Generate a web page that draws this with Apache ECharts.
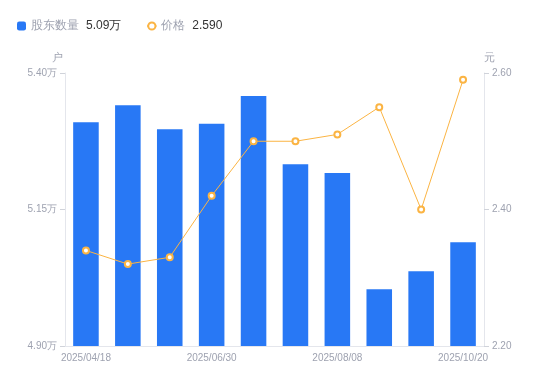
<!DOCTYPE html>
<html>
<head>
<meta charset="utf-8">
<script src="https://cdn.jsdelivr.net/npm/echarts@6/dist/echarts.min.js"></script>
<style>
html,body{margin:0;padding:0;background:#fff;}
#main{width:550px;height:381px;}
</style>
</head>
<body>
<div id="main"></div>
<script>
var dates = ['2025/04/18', '2025/05/09', '2025/05/30', '2025/06/30', '2025/07/10',
	'2025/07/31', '2025/08/08', '2025/08/29', '2025/09/30', '2025/10/20'];
var holders = [53100, 53410, 52970, 53070, 53580, 52330, 52170, 50040, 50370, 50900];// 股东数量(户)
var prices = [2.34, 2.32, 2.33, 2.42, 2.50, 2.50, 2.51, 2.55, 2.40, 2.59];// 价格(元)
var leftTicks = [49000, 54000, 2500];// min, max, interval
var rightTicks = [2.2, 2.6, 0.2];

var grey = '#9ea2b0';
var dom = document.getElementById('main');
var myChart = echarts.init(dom);

var lastHolder = (holders[holders.length - 1] / 10000).toFixed(2) + '万';
var lastPrice = prices[prices.length - 1].toFixed(3);

var option = {
	animation : false,
	legend : {
		left : 12,
		top : 15,
		itemWidth : 9,
		itemHeight : 9,
		itemGap : 25,
		data : [ {
			name : '股东数量',
			icon : 'roundRect'
		}, {
			name : '价格'
		} ],
		formatter : function(name) {
			var v = name == '股东数量' ? lastHolder : lastPrice;
			return '{n|' + name + '}{v|' + v + '}';
		},
		textStyle : {
			rich : {
				n : { color : grey, fontSize : 12, padding : [0, 7, 0, 0] },
				v : { color : '#333', fontSize : 12 }
			}
		}
	},
	grid : {
		left : 65,
		right : 66,
		top : 73,
		bottom : 35
	},
	xAxis : {
		type : 'category',
		data : dates,
		axisLine : { lineStyle : { color : '#e4e6ec' } },
		axisTick : { show : false },
		axisLabel : {
			color : grey,
			fontSize : 10,
			interval : 2,
			margin : 7
		}
	},
	yAxis : [ {
		type : 'value',
		name : '户',
		nameGap : 10,
		nameTextStyle : { color : grey, fontSize : 11, padding : [0, 16, 0, 0] },
		min : leftTicks[0],
		max : leftTicks[1],
		interval : leftTicks[2],
		axisLine : { show : true, lineStyle : { color : '#e4e6ec' } },
		axisTick : { show : true, length : 5, lineStyle : { color : '#d0d3da' } },
		splitLine : { show : false },
		axisLabel : {
			color : grey,
			fontSize : 10,
			margin : 8,
			formatter : function(v) {
				return (v / 10000).toFixed(2) + '万';
			}
		}
	}, {
		type : 'value',
		name : '元',
		nameGap : 10,
		nameTextStyle : { color : grey, fontSize : 11, align : 'left', padding : [0, 0, 0, 0] },
		min : rightTicks[0],
		max : rightTicks[1],
		interval : rightTicks[2],
		axisLine : { show : true, lineStyle : { color : '#e4e6ec' } },
		axisTick : { show : true, length : 5, lineStyle : { color : '#d0d3da' } },
		splitLine : { show : false },
		axisLabel : {
			color : grey,
			fontSize : 10,
			margin : 8,
			formatter : function(v) {
				return v.toFixed(2);
			}
		}
	} ],
	series : [ {
		name : '股东数量',
		type : 'bar',
		data : holders,
		barWidth : '61%',
		itemStyle : { color : '#2878f5' }
	}, {
		name : '价格',
		type : 'line',
		yAxisIndex : 1,
		data : prices,
		symbol : 'emptyCircle',
		symbolSize : 6,
		lineStyle : { color : '#fbb443', width : 1 },
		itemStyle : { color : '#fbb443', borderWidth : 2 }
	} ]
};

myChart.setOption(option, true);

// 自适应窗口大小
window.onresize = function() {
	myChart.resize();
};
</script>
</body>
</html>
